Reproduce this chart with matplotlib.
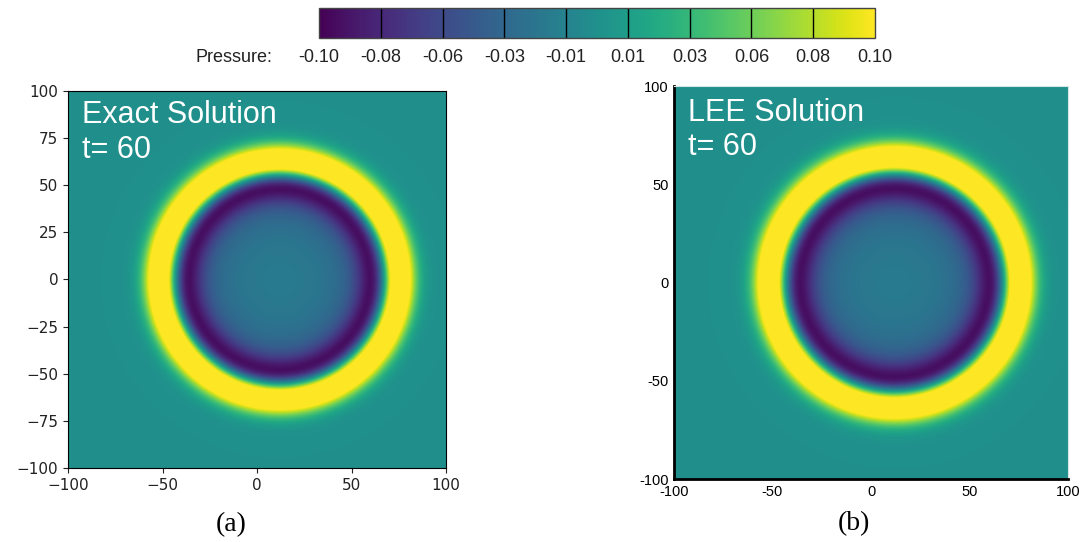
import numpy as np
import matplotlib
matplotlib.use('Agg')
import matplotlib.pyplot as plt

# 2D acoustic pulse convected by a uniform mean flow
t_out = 60.0
mach = 0.2
half_width = 8.0
amplitude = 1.35
domain = (-100.0, 100.0)
n_grid = 401

cbar_ticks = np.linspace(-0.1, 0.1, 10)
cbar_labels = ['%.2f' % v for v in cbar_ticks]
left_ticks = [-100, -75, -50, -25, 0, 25, 50, 75, 100]
left_xticks = [-100, -50, 0, 50, 100]
right_ticks = [-100, -50, 0, 50, 100]
right_labels = ['-100', '-50', '0', '50', '100']
panel_titles = ['Exact Solution\nt= 60', 'LEE Solution\nt= 60']
captions = ['(a)', '(b)']

SANS = ['Liberation Sans', 'DejaVu Sans']
SERIF = ['Liberation Serif', 'DejaVu Serif']


def bessel_j0(x):
    # rational / asymptotic approximation of J0 (Numerical Recipes)
    ax = np.abs(x)
    y = x * x
    n1 = 57568490574.0 + y * (-13362590354.0 + y * (651619640.7 + y * (-11214424.18
         + y * (77392.33017 + y * (-184.9052456)))))
    d1 = 57568490411.0 + y * (1029532985.0 + y * (9494680.718 + y * (59272.64853
         + y * (267.8532712 + y * 1.0))))
    small = n1 / d1
    axs = np.where(ax < 8.0, 8.0, ax)
    z = 8.0 / axs
    y2 = z * z
    xx = axs - 0.785398164
    a1 = 1.0 + y2 * (-0.1098628627e-2 + y2 * (0.2734510407e-4 + y2 * (-0.2073370639e-5
         + y2 * 0.2093887211e-6)))
    a2 = -0.1562499995e-1 + y2 * (0.1430488765e-3 + y2 * (-0.6911147651e-5
         + y2 * (0.7621095161e-6 - y2 * 0.934935152e-7)))
    large = np.sqrt(0.636619772 / axs) * (np.cos(xx) * a1 - z * np.sin(xx) * a2)
    return np.where(ax < 8.0, small, large)


def pulse_field():
    alpha = np.log(2.0) / half_width ** 2
    xi = np.linspace(0.0, 1.5, 4000)
    r = np.linspace(0.0, 170.0, 1701)
    weight = np.exp(-xi ** 2 / (4 * alpha)) * np.cos(xi * t_out) * xi
    p_r = amplitude / (2 * alpha) * np.trapezoid(bessel_j0(np.outer(r, xi)) * weight, xi, axis=1)

    x = np.linspace(domain[0], domain[1], n_grid)
    X, Y = np.meshgrid(x, x)
    eta = np.sqrt((X - mach * t_out) ** 2 + Y ** 2)
    return np.interp(eta, r, p_r)


P = pulse_field()
W, H = 1086, 542
fig = plt.figure(figsize=(W / 100, H / 100), dpi=100)


def px_axes(left, top, right, bottom):
    return fig.add_axes([left / W, 1 - bottom / H, (right - left) / W, (bottom - top) / H])


img_kw = dict(extent=[domain[0], domain[1], domain[0], domain[1]], origin='lower',
              cmap='viridis', vmin=-0.1, vmax=0.1, aspect='auto', interpolation='bilinear')

# (a) exact solution, plain matplotlib styling
ax1 = px_axes(68, 91, 446, 468)
im = ax1.imshow(P, **img_kw)
ax1.set_xticks(left_xticks)
ax1.set_yticks(left_ticks)
ax1.tick_params(labelsize=11, colors='#222222')
ax1.text(0.037, 0.975, panel_titles[0], transform=ax1.transAxes, color='white',
         fontsize=22, family=SANS, ha='left', va='top')

# (b) LEE solution
ax2 = px_axes(674, 86, 1068, 479)
ax2.imshow(P, **img_kw)
ax2.set_xticks(right_ticks, right_labels)
ax2.set_yticks(right_ticks, right_labels)
ax2.tick_params(length=0, labelsize=10.5, pad=4)
for lab in ax2.get_xticklabels() + ax2.get_yticklabels():
    lab.set_family(SANS)
for side in ['left', 'bottom']:
    ax2.spines[side].set_linewidth(2)
    ax2.spines[side].set_color('black')
for side in ['top', 'right']:
    ax2.spines[side].set_linewidth(0.8)
    ax2.spines[side].set_color('#d5e6e6')
ax2.text(0.036, 0.97, panel_titles[1], transform=ax2.transAxes, color='white',
         fontsize=22, family=SANS, ha='left', va='top')

# shared colour bar across the top
cax = px_axes(319, 8, 875, 38)
cb = fig.colorbar(im, cax=cax, orientation='horizontal', ticks=cbar_ticks)
cb.set_ticklabels(cbar_labels)
cax.tick_params(length=0, pad=8, labelsize=13, colors='#222222')
for lab in cax.get_xticklabels():
    lab.set_family(SANS)
for v in cbar_ticks[1:-1]:
    cax.axvline(v, color='black', lw=1)
cb.outline.set_linewidth(1)
cb.outline.set_edgecolor('#444444')
fig.text(195 / W, 1 - 57 / H, 'Pressure:', fontsize=13, family=SANS, color='#222222',
         ha='left', va='center')

fig.text(231 / W, 1 - 525 / H, captions[0], fontsize=20, family=SERIF, ha='center', va='center')
fig.text(854 / W, 1 - 524 / H, captions[1], fontsize=20, family=SERIF, ha='center', va='center')

fig.savefig('out.png', dpi=100)
